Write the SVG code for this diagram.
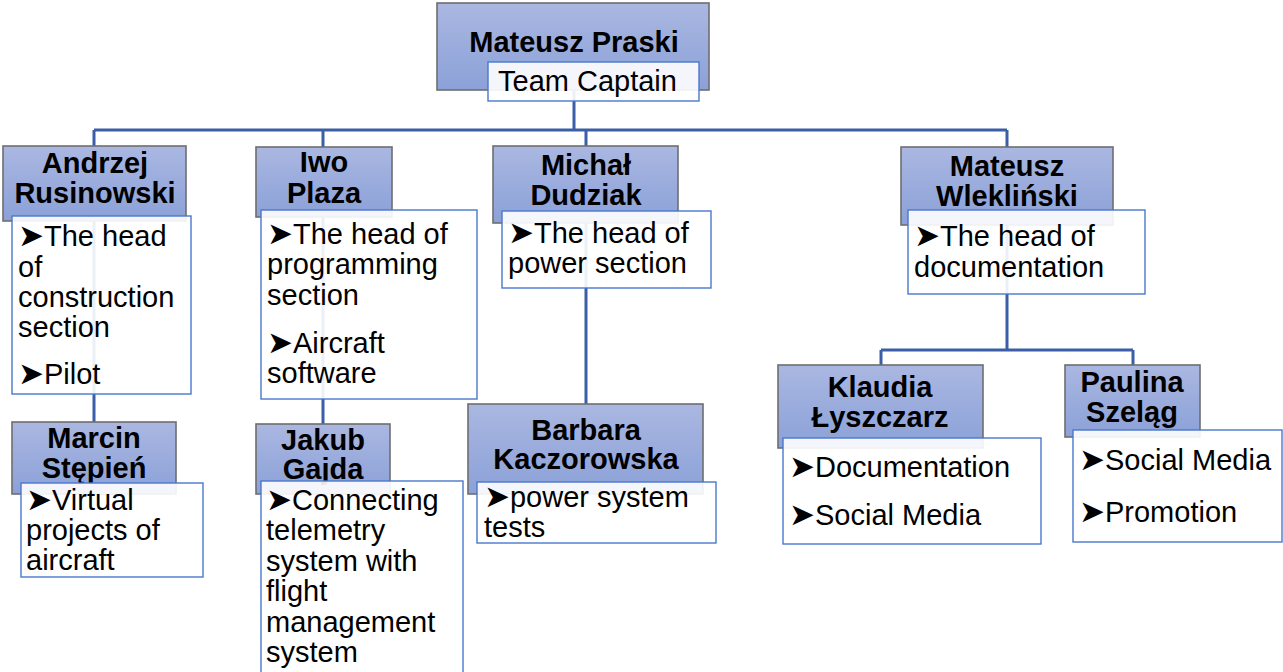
<svg xmlns="http://www.w3.org/2000/svg" width="1283" height="672" viewBox="0 0 1283 672">
<defs>
<linearGradient id="g" x1="0" y1="0" x2="0" y2="1">
<stop offset="0" stop-color="#AAB7E1"/>
<stop offset="1" stop-color="#8BA1D8"/>
</linearGradient>
<style>
.nb{fill:url(#g);stroke:#6E6E6E;stroke-width:1.6}
.tb{fill:#FFFFFF;fill-opacity:0.9;stroke:#4A78CC;stroke-width:1.4}
.nm{font-family:"Liberation Sans",Arial,sans-serif;font-weight:bold;font-size:29px;fill:#000;text-anchor:middle}
.tx{font-family:"Liberation Sans",Arial,sans-serif;font-size:29px;fill:#000}
.ar{font-family:"DejaVu Sans",sans-serif;font-size:31px}
.cn{fill:none;stroke:#3B5EA6;stroke-width:3}
</style>
</defs>
<rect width="1283" height="672" fill="#FFFFFF"/>
<g id="connectors">
<path class="cn" d="M574,90 V130 M94,130 H1007 M94,130 V146 M323,130 V147 M586,130 V146 M1007,130 V147"/>
<path class="cn" d="M94,221 V422 M323,217 V424 M586,223 V404 M1007,225 V350 M881,350 H1133 M881,350 V365 M1133,350 V365"/>
</g>
<g id="node-praski">
<rect class="nb" x="437" y="3" width="272" height="87"/>
<text class="nm" x="574" y="52">Mateusz Praski</text>
<rect class="tb" x="488" y="62" width="211" height="39"/>
<text class="tx" x="498" y="91">Team Captain</text>
</g>
<g id="node-rusinowski">
<rect class="nb" x="3" y="146" width="183" height="75"/>
<text class="nm" x="95" y="173">Andrzej</text>
<text class="nm" x="95" y="203">Rusinowski</text>
<rect class="tb" x="12" y="216" width="179" height="178"/>
<text class="tx" x="18"><tspan x="18" y="246"><tspan class="ar">➤</tspan>The head</tspan><tspan x="18" y="277">of</tspan><tspan x="18" y="307">construction</tspan><tspan x="18" y="337">section</tspan><tspan x="18" y="384"><tspan class="ar">➤</tspan>Pilot</tspan></text>
</g>
<g id="node-plaza">
<rect class="nb" x="256" y="147" width="136" height="70"/>
<text class="nm" x="324" y="172">Iwo</text>
<text class="nm" x="324" y="203">Plaza</text>
<rect class="tb" x="261" y="210" width="216" height="189"/>
<text class="tx"><tspan x="267" y="244"><tspan class="ar">➤</tspan>The head of</tspan><tspan x="267" y="274">programming</tspan><tspan x="267" y="305">section</tspan><tspan x="267" y="353"><tspan class="ar">➤</tspan>Aircraft</tspan><tspan x="267" y="383">software</tspan></text>
</g>
<g id="node-dudziak">
<rect class="nb" x="493" y="146" width="185" height="77"/>
<text class="nm" x="586" y="175">Michał</text>
<text class="nm" x="586" y="205">Dudziak</text>
<rect class="tb" x="502" y="211" width="209" height="77"/>
<text class="tx"><tspan x="508" y="243"><tspan class="ar">➤</tspan>The head of</tspan><tspan x="508" y="273">power section</tspan></text>
</g>
<g id="node-wleklinski">
<rect class="nb" x="901" y="147" width="212" height="78"/>
<text class="nm" x="1007" y="176">Mateusz</text>
<text class="nm" x="1007" y="206">Wlekliński</text>
<rect class="tb" x="908" y="210" width="237" height="84"/>
<text class="tx"><tspan x="914" y="246"><tspan class="ar">➤</tspan>The head of</tspan><tspan x="914" y="277">documentation</tspan></text>
</g>
<g id="node-stepien">
<rect class="nb" x="12" y="422" width="164" height="72"/>
<text class="nm" x="94" y="448">Marcin</text>
<text class="nm" x="94" y="478">Stępień</text>
<rect class="tb" x="21" y="483" width="182" height="94"/>
<text class="tx"><tspan x="26" y="510"><tspan class="ar">➤</tspan>Virtual</tspan><tspan x="26" y="540">projects of</tspan><tspan x="26" y="570">aircraft</tspan></text>
</g>
<g id="node-gaida">
<rect class="nb" x="256" y="424" width="134" height="70"/>
<text class="nm" x="323" y="450">Jakub</text>
<text class="nm" x="323" y="479">Gajda</text>
<rect class="tb" x="261" y="481" width="202" height="200"/>
<text class="tx"><tspan x="266" y="510"><tspan class="ar">➤</tspan>Connecting</tspan><tspan x="266" y="540">telemetry</tspan><tspan x="266" y="571">system with</tspan><tspan x="266" y="601">flight</tspan><tspan x="266" y="632">management</tspan><tspan x="266" y="662">system</tspan></text>
</g>
<g id="node-kaczorowska">
<rect class="nb" x="468" y="404" width="235" height="90"/>
<text class="nm" x="586" y="440">Barbara</text>
<text class="nm" x="586" y="469">Kaczorowska</text>
<rect class="tb" x="477" y="482" width="239" height="61"/>
<text class="tx"><tspan x="484" y="507"><tspan class="ar">➤</tspan>power system</tspan><tspan x="484" y="537">tests</tspan></text>
</g>
<g id="node-lyszczarz">
<rect class="nb" x="778" y="365" width="205" height="83"/>
<text class="nm" x="880" y="397">Klaudia</text>
<text class="nm" x="880" y="427">Łyszczarz</text>
<rect class="tb" x="783" y="438" width="258" height="106"/>
<text class="tx"><tspan x="789" y="477"><tspan class="ar">➤</tspan>Documentation</tspan><tspan x="789" y="525"><tspan class="ar">➤</tspan>Social Media</tspan></text>
</g>
<g id="node-szelag">
<rect class="nb" x="1065" y="365" width="135" height="72"/>
<text class="nm" x="1132" y="392">Paulina</text>
<text class="nm" x="1132" y="422">Szeląg</text>
<rect class="tb" x="1073" y="430" width="209" height="112"/>
<text class="tx"><tspan x="1079" y="470"><tspan class="ar">➤</tspan>Social Media</tspan><tspan x="1079" y="522"><tspan class="ar">➤</tspan>Promotion</tspan></text>
</g>
</svg>
